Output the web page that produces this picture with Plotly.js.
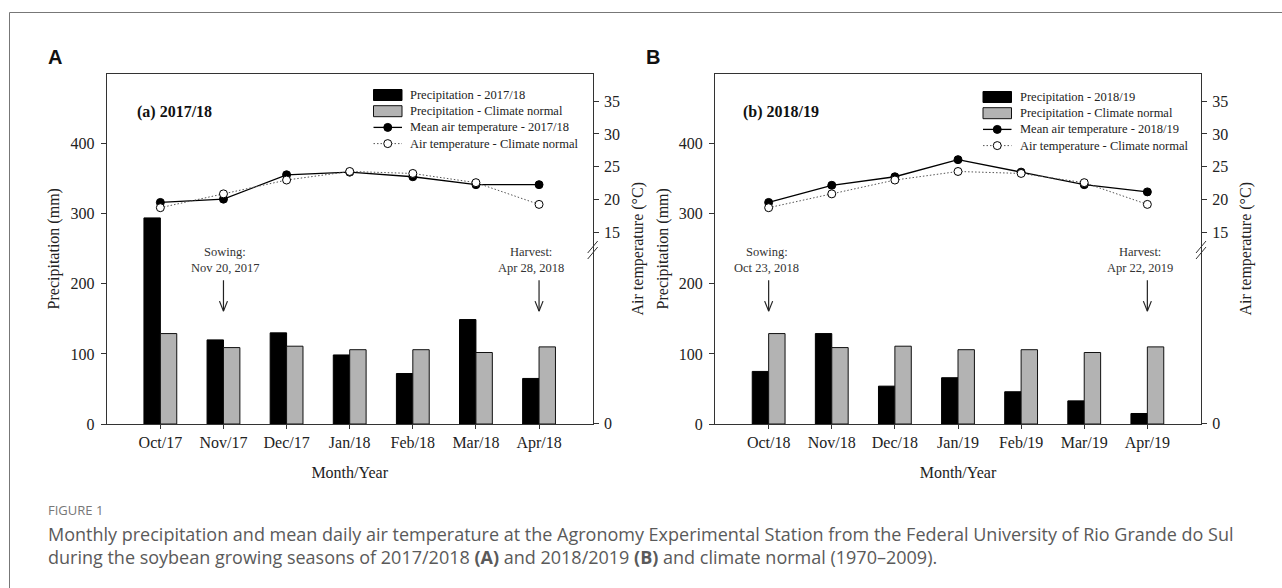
<!DOCTYPE html>
<html><head><meta charset="utf-8">
<script src="https://cdn.plot.ly/plotly-3.0.1.min.js"></script>
<style>html,body{margin:0;padding:0;background:#fff;overflow:hidden}#chart{width:1282px;height:588px}</style>
</head><body><div id="chart"></div>
<script>
// ---------- data ----------
const monthsA = ['Oct/17','Nov/17','Dec/17','Jan/18','Feb/18','Mar/18','Apr/18'];
const monthsB = ['Oct/18','Nov/18','Dec/18','Jan/19','Feb/19','Mar/19','Apr/19'];
const precipA = [294, 120, 130, 98.5, 72, 149, 65];
const precipB = [75, 129, 54, 66, 46, 33, 15];
const precipNormal = [129, 109, 111, 106, 106, 102, 110];
const tempA = [19.6, 20.1, 23.8, 24.2, 23.5, 22.3, 22.3];
const tempB = [19.6, 22.2, 23.5, 26.1, 24.2, 22.3, 21.2];
const tempNormal = [18.8, 20.9, 23.0, 24.3, 24.0, 22.6, 19.3];
const precipTicks = [0, 100, 200, 300, 400];
const tempTicks = [15, 20, 25, 30, 35];
const seasonA = '2017/18', seasonB = '2018/19';
const sowingA = {month:'Nov/17', lines:['Sowing:', 'Nov 20, 2017']};
const harvestA = {month:'Apr/18', lines:['Harvest:', 'Apr 28, 2018']};
const sowingB = {month:'Oct/18', lines:['Sowing:', 'Oct 23, 2018']};
const harvestB = {month:'Apr/19', lines:['Harvest:', 'Apr 22, 2019']};

// ---------- layout helpers ----------
const W = 1282, H = 588;
const px = v => v / W, py = v => 1 - v / H;
const serif = 'Liberation Serif, Times New Roman, serif';
const sans = 'Open Sans, Noto Sans, sans-serif';
const ink = '#222';
const tempRange = [-14.05, 39.18];   // broken axis: bottom of axis shows "0"
const tempTickVals = [-14.0].concat(tempTicks);
const tempTickText = ['0'].concat(tempTicks.map(String));
const idx = monthsA.map((_, i) => i);
const yDomain = [py(424), py(73.5)];
const domA = [px(106.7), px(592.7)], domB = [px(715), px(1201)];

function xax(domain, months, anchor) {
  return {domain, anchor, range:[-0.85, 6.85], tickvals: idx, ticktext: months,
    showline:true, mirror:true, linecolor:'#333', linewidth:1, ticks:'outside', ticklen:4,
    tickcolor:'#333', showgrid:false, zeroline:false, fixedrange:true,
    tickfont:{family:serif, size:16, color:ink},
    title:{text:'Month/Year', font:{family:serif, size:16, color:ink}, standoff:15}};
}
function yLeft(anchor) {
  return {domain:yDomain, anchor, range:[0, 500], tickvals:precipTicks,
    showline:true, linecolor:'#333', linewidth:1, ticks:'outside', ticklen:5, tickcolor:'#333',
    showgrid:false, zeroline:false, fixedrange:true, ticklabelstandoff:3,
    tickfont:{family:serif, size:16, color:ink},
    title:{text:'Precipitation (mm)', font:{family:serif, size:16, color:ink}, standoff:6}};
}
function yRight(anchor, overlay) {
  return {domain:yDomain, anchor, overlaying:overlay, side:'right', range:tempRange,
    tickvals:tempTickVals, ticktext:tempTickText,
    showline:true, linecolor:'#333', linewidth:1, ticks:'outside', ticklen:5, tickcolor:'#333',
    showgrid:false, zeroline:false, fixedrange:true, ticklabelstandoff:2,
    tickfont:{family:serif, size:16, color:ink},
    title:{text:'Air temperature (\u00B0C)', font:{family:serif, size:16, color:ink}, standoff:12}};
}

function panel(xa, ya, ta, precip, temp, season) {
  return [
    {type:'bar', x:idx, y:precip, xaxis:xa, yaxis:ya, name:'Precipitation - ' + season,
     marker:{color:'#000', line:{color:'#000', width:1}}, showlegend:false},
    {type:'bar', x:idx, y:precipNormal, xaxis:xa, yaxis:ya, name:'Precipitation - Climate normal',
     marker:{color:'#b3b3b3', line:{color:'#111', width:1}}, showlegend:false},
    {type:'scatter', mode:'lines+markers', x:idx, y:temp, xaxis:xa, yaxis:ta,
     name:'Mean air temperature - ' + season, showlegend:false,
     line:{color:'#000', width:1.3}, marker:{color:'#000', size:8, line:{color:'#000', width:1}}},
    {type:'scatter', mode:'lines+markers', x:idx, y:tempNormal, xaxis:xa, yaxis:ta,
     name:'Air temperature - Climate normal', showlegend:false,
     line:{color:'#555', width:1, dash:'1.5px,2px'},
     marker:{color:'#fff', size:8, line:{color:'#000', width:1}}}
  ];
}
const tracesA = panel('x', 'y', 'y3', precipA, tempA, seasonA);
const tracesB = panel('x2', 'y2', 'y4', precipB, tempB, seasonB);
const data = tracesA.concat(tracesB);

// legend drawn from the traces' own names and styles (wide keys as in the original)
function legendFor(traces, xSym, xText, yTop) {
  const shapes = [], anns = [];
  traces.forEach((t, i) => {
    const y = yTop + 16.2 * i, x1 = xSym + 28.5;
    if (t.type === 'bar') {
      shapes.push({type:'rect', xref:'paper', yref:'paper', x0:px(xSym), x1:px(x1),
        y0:py(y + 5.5), y1:py(y - 5.5), fillcolor:t.marker.color,
        line:{color:t.marker.line.color, width:1}});
    } else {
      shapes.push({type:'line', xref:'paper', yref:'paper', x0:px(xSym), x1:px(x1),
        y0:py(y), y1:py(y), line:{color:t.line.color, width:t.line.width, dash:t.line.dash || 'solid'}});
      const cx = (xSym + x1) / 2, r = t.marker.size / 2;
      shapes.push({type:'circle', xref:'paper', yref:'paper', x0:px(cx - r), x1:px(cx + r),
        y0:py(y + r), y1:py(y - r), fillcolor:t.marker.color,
        line:{color:t.marker.line.color, width:1}});
    }
    anns.push({xref:'paper', yref:'paper', x:px(xText), y:py(y), text:t.name, showarrow:false,
      xanchor:'left', yanchor:'middle', font:{family:serif, size:12.5, color:ink}});
  });
  return {shapes, anns};
}
const legA = legendFor(tracesA, 373.5, 408, 95);
const legB = legendFor(tracesB, 983, 1017.5, 97);

function eventMarks(xa, ya, ev, months, textShift) {
  const i = months.indexOf(ev.month);
  const yTail = 205, yHead = 161;
  const shapes = [
    {type:'line', xref:xa, yref:ya, x0:i, x1:i, y0:yTail, y1:yHead, line:{color:'#222', width:1.2}},
    {type:'line', xref:xa, yref:ya, xsizemode:'pixel', xanchor:i, x0:-4, x1:0,
     ysizemode:'pixel', yanchor:yHead, y0:10, y1:0, line:{color:'#222', width:1.2}},
    {type:'line', xref:xa, yref:ya, xsizemode:'pixel', xanchor:i, x0:4, x1:0,
     ysizemode:'pixel', yanchor:yHead, y0:10, y1:0, line:{color:'#222', width:1.2}}
  ];
  const anns = ev.lines.map((txt, k) => ({xref:xa, yref:ya, x:i + textShift, y:245.5 - 22.8 * k,
    text:txt, showarrow:false, xanchor:'center', yanchor:'middle',
    font:{family:serif, size:12.5, color:'#333'}}));
  return {shapes, anns};
}
const evs = [
  eventMarks('x', 'y', sowingA, monthsA, 0.02),
  eventMarks('x', 'y', harvestA, monthsA, -0.12),
  eventMarks('x2', 'y2', sowingB, monthsB, -0.03),
  eventMarks('x2', 'y2', harvestB, monthsB, -0.12)
];

function breakMarks(xAxisPx) {
  const c = 250, out = [];
  [-3, 3].forEach(d => out.push({type:'line', xref:'paper', yref:'paper',
    x0:px(xAxisPx - 5), x1:px(xAxisPx + 5), y0:py(c + d + 6), y1:py(c + d - 6),
    line:{color:'#333', width:1}}));
  return out;
}

const border = [
  {type:'line', xref:'paper', yref:'paper', x0:px(9.5), x1:1, y0:py(12.5), y1:py(12.5), line:{color:'#777', width:1}},
  {type:'line', xref:'paper', yref:'paper', x0:px(9.5), x1:px(9.5), y0:py(12.5), y1:0, line:{color:'#777', width:1}}
];

const boldSans = {family:'Liberation Sans, Arial, sans-serif', size:20, color:'#111', weight:'bold'};
const boldSerif = {family:serif, size:16, color:'#111', weight:'bold'};
const annotations = [
  {xref:'paper', yref:'paper', x:px(55), y:py(57), text:'A', showarrow:false,
   xanchor:'center', yanchor:'middle', font:boldSans},
  {xref:'paper', yref:'paper', x:px(653), y:py(57), text:'B', showarrow:false,
   xanchor:'center', yanchor:'middle', font:boldSans},
  {xref:'paper', yref:'paper', x:px(134.7), y:py(111.7), text:'(a) ' + seasonA, showarrow:false,
   xanchor:'left', yanchor:'middle', font:boldSerif},
  {xref:'paper', yref:'paper', x:px(741), y:py(111.7), text:'(b) ' + seasonB, showarrow:false,
   xanchor:'left', yanchor:'middle', font:boldSerif},
  {xref:'paper', yref:'paper', x:px(46), y:py(510), text:'FIGURE 1', showarrow:false,
   xanchor:'left', yanchor:'middle', font:{family:sans, size:13, color:'#777'}},
  {xref:'paper', yref:'paper', x:px(46), y:py(534.3), showarrow:false, xanchor:'left', yanchor:'middle',
   text:'Monthly precipitation and mean daily air temperature at the Agronomy Experimental Station from the Federal University of Rio Grande do Sul',
   font:{family:sans, size:18, color:'#5a5a5a'}},
  {xref:'paper', yref:'paper', x:px(46), y:py(556.7), showarrow:false, xanchor:'left', yanchor:'middle',
   text:'during the soybean growing seasons of 2017/2018 <b>(A)</b> and 2018/2019 <b>(B)</b> and climate normal (1970\u20132009).',
   font:{family:sans, size:18, color:'#5a5a5a'}}
].concat(legA.anns, legB.anns, ...evs.map(e => e.anns));

const layout = {
  width:W, height:H, margin:{l:0, r:0, t:0, b:0}, paper_bgcolor:'#fff', plot_bgcolor:'rgba(0,0,0,0)',
  barmode:'group', bargap:0.48, bargroupgap:0, showlegend:false,
  xaxis:xax(domA, monthsA, 'y'), xaxis2:xax(domB, monthsB, 'y2'),
  yaxis:yLeft('x'), yaxis2:yLeft('x2'),
  yaxis3:yRight('x', 'y'), yaxis4:yRight('x2', 'y2'),
  shapes:[].concat(border, breakMarks(592.7), breakMarks(1201), legA.shapes, legB.shapes, ...evs.map(e => e.shapes)),
  annotations
};

Plotly.newPlot('chart', data, layout, {displayModeBar:false, staticPlot:true});
</script></body></html>
